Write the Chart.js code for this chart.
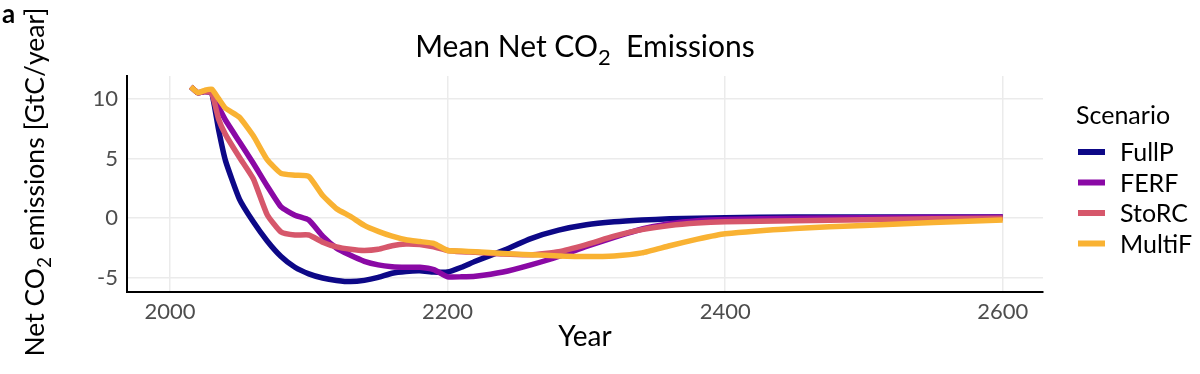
<!DOCTYPE html>
<html>
<head>
<meta charset="utf-8">
<title>Mean Net CO2 Emissions</title>
<script src="https://cdn.jsdelivr.net/npm/chart.js@4.4.1/dist/chart.umd.min.js"></script>
<style>
  html, body { margin: 0; padding: 0; background: #fff; }
</style>
</head>
<body>
<canvas id="emissionsChart" width="1200" height="374"></canvas>
<script>
// Scenarios and their colours (plasma-like palette)
const scenarios = ['FullP', 'FERF', 'StoRC', 'MultiF'];
const scenarioColors = ['#0d0887', '#8a09a5', '#d6576b', '#f9b233'];

const years = [2015, 2020, 2025, 2030, 2035, 2040, 2050, 2060, 2070, 2080, 2090, 2100,
  2110, 2120, 2130, 2140, 2150, 2160, 2170, 2180, 2190, 2200, 2210, 2220, 2240, 2260,
  2280, 2300, 2320, 2340, 2360, 2380, 2400, 2450, 2500, 2550, 2600];

// Net CO2 emissions [GtC/year]
const fullP = [11.0, 10.5, 10.6, 10.5, 7.4, 4.8, 1.6, -0.3, -1.9, -3.2, -4.1, -4.65,
  -5.0, -5.2, -5.3, -5.2, -4.95, -4.6, -4.45, -4.4, -4.5, -4.5, -4.1, -3.6, -2.7, -1.7,
  -1.0, -0.55, -0.3, -0.15, -0.05, 0.0, 0.05, 0.1, 0.1, 0.1, 0.1];
const ferf = [11.0, 10.5, 10.6, 10.5, 9.3, 8.2, 6.4, 4.6, 2.7, 0.95, 0.25, -0.15,
  -1.5, -2.5, -3.1, -3.6, -3.9, -4.05, -4.1, -4.1, -4.3, -4.9, -4.9, -4.85, -4.5, -3.9,
  -3.2, -2.35, -1.6, -0.9, -0.45, -0.2, -0.1, 0.0, 0.05, 0.08, 0.1];
const storc = [11.0, 10.5, 10.6, 10.5, 8.3, 7.0, 5.1, 3.3, 0.3, -1.15, -1.4, -1.4,
  -2.0, -2.4, -2.6, -2.7, -2.6, -2.3, -2.15, -2.2, -2.4, -2.7, -2.8, -2.85, -3.0, -3.05,
  -2.8, -2.2, -1.5, -0.95, -0.6, -0.4, -0.3, -0.2, -0.12, -0.05, 0.0];
const multiF = [11.0, 10.5, 10.7, 10.8, 10.0, 9.2, 8.45, 6.9, 4.9, 3.75, 3.6, 3.5,
  1.9, 0.8, 0.15, -0.6, -1.1, -1.5, -1.8, -1.95, -2.1, -2.7, -2.75, -2.8, -2.95, -3.05,
  -3.15, -3.2, -3.15, -2.9, -2.3, -1.75, -1.3, -0.85, -0.6, -0.35, -0.15];

// Tick labels
const xTicks = [2000, 2200, 2400, 2600];
const yTicks = [-5, 0, 5, 10];

const seriesValues = [fullP, ferf, storc, multiF];
const FONT = 'Lato, "Open Sans", sans-serif';

// draw a string with a subscript part, e.g. CO2
function drawRich(ctx, parts, x, y, size, align) {
  const subSize = Math.round(size * 0.72);
  let total = 0;
  parts.forEach(p => {
    ctx.font = (p.sub ? subSize : size) + 'px ' + FONT;
    p.w = ctx.measureText(p.t).width;
    total += p.w;
  });
  let cx = align === 'center' ? x - total / 2 : x;
  parts.forEach(p => {
    ctx.font = (p.sub ? subSize : size) + 'px ' + FONT;
    ctx.fillText(p.t, cx, p.sub ? y + size * 0.28 : y);
    cx += p.w;
  });
}

const decorPlugin = {
  id: 'decor',
  afterDraw(chart) {
    const ctx = chart.ctx;
    const area = chart.chartArea;
    ctx.save();
    ctx.fillStyle = '#000';
    ctx.textBaseline = 'alphabetic';
    ctx.textAlign = 'left';

    // panel letter
    ctx.font = 'bold 26px ' + FONT;
    ctx.fillText('a', 2, 23);

    // title
    drawRich(ctx, [{t: 'Mean Net CO'}, {t: '2', sub: true}, {t: '  Emissions'}],
      (area.left + area.right) / 2, 57, 30, 'center');

    // y axis title
    ctx.save();
    ctx.translate(44, (area.top + area.bottom) / 2 - 2);
    ctx.rotate(-Math.PI / 2);
    drawRich(ctx, [{t: 'Net CO'}, {t: '2', sub: true}, {t: ' emissions [GtC/year]'}],
      0, 0, 26.5, 'center');
    ctx.restore();

    // legend
    const lx = 1076;
    ctx.fillStyle = '#000';
    ctx.font = '25px ' + FONT;
    ctx.fillText('Scenario', lx, 124);
    chart.data.datasets.forEach((ds, i) => {
      const cy = 152 + i * 30.5;
      ctx.fillStyle = ds.borderColor;
      ctx.fillRect(lx + 2, cy - 3, 27, 6);
      ctx.fillStyle = '#000';
      ctx.font = '25px ' + FONT;
      ctx.textBaseline = 'middle';
      ctx.fillText(ds.label, lx + 44, cy + 1);
      ctx.textBaseline = 'alphabetic';
    });
    ctx.restore();
  }
};

const ctx = document.getElementById('emissionsChart');

new Chart(ctx, {
  type: 'line',
  data: {
    datasets: scenarios.map((name, i) => ({
      label: name,
      data: years.map((yr, j) => ({ x: yr, y: seriesValues[i][j] })),
      borderColor: scenarioColors[i],
      backgroundColor: scenarioColors[i],
      order: scenarios.length - i
    }))
  },
  options: {
    responsive: false,
    animation: false,
    layout: { padding: { top: 76, right: 157, bottom: 0, left: 0 } },
    elements: {
      point: { radius: 0 },
      line: { borderWidth: 5.5, tension: 0.15, borderJoinStyle: 'round', borderCapStyle: 'butt' }
    },
    plugins: {
      legend: { display: false },
      title: { display: false },
      tooltip: { enabled: false }
    },
    scales: {
      x: {
        type: 'linear',
        min: 1969,
        max: 2629,
        afterBuildTicks: scale => { scale.ticks = xTicks.map(v => ({ value: v })); },
        afterFit: scale => { scale.height = 82; },
        grid: { color: '#ebebeb', lineWidth: 1.5, drawTicks: false },
        border: { display: true, color: '#000', width: 2 },
        ticks: {
          font: { family: FONT, size: 22 },
          color: '#4d4d4d',
          padding: 7,
          maxRotation: 0,
          callback: v => String(v)
        },
        title: {
          display: true,
          text: 'Year',
          font: { family: FONT, size: 28 },
          color: '#000',
          padding: { top: 0, bottom: 20 }
        }
      },
      y: {
        type: 'linear',
        min: -6.17,
        max: 11.9,
        afterBuildTicks: scale => { scale.ticks = yTicks.map(v => ({ value: v })); },
        afterFit: scale => { scale.width = 127; },
        grid: { color: '#ebebeb', lineWidth: 1.5, drawTicks: false },
        border: { display: true, color: '#000', width: 2 },
        ticks: {
          font: { family: FONT, size: 22 },
          color: '#4d4d4d',
          padding: 9,
          callback: v => String(v)
        }
      }
    }
  },
  plugins: [decorPlugin]
});
</script>
</body>
</html>
